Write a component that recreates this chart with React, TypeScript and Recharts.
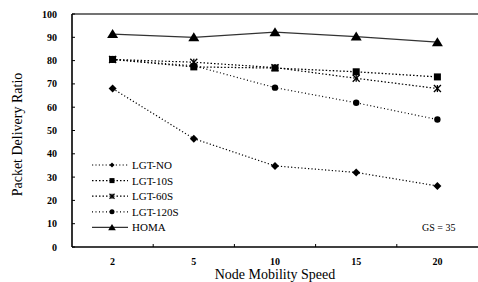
import React from 'react';
import { LineChart, Line, XAxis, YAxis, ReferenceLine } from 'recharts';

const categories = ['2', '5', '10', '15', '20'];
const lgtNo = [68, 46.5, 34.8, 32, 26.2];
const lgt10s = [80.5, 77.3, 76.8, 75.2, 73];
const lgt60s = [80.5, 79.3, 77, 72.4, 68];
const lgt120s = [80.5, 77.8, 68.4, 61.9, 54.7];
const homa = [91.4, 90, 92.2, 90.3, 87.9];
const yTicks = [0, 10, 20, 30, 40, 50, 60, 70, 80, 90, 100];

const W = 478;
const H = 282;
const PLOT_LEFT = 72;
const PLOT_TOP = 14;
const X_AXIS_H = 35;
const PLOT_BOTTOM = H - X_AXIS_H;
const BAND = (W - PLOT_LEFT) / categories.length;
const FONT = 'Liberation Serif, Times New Roman, DejaVu Serif, serif';

const data = categories.map((c, i) => ({
  cat: c,
  lgtNo: lgtNo[i],
  lgt10s: lgt10s[i],
  lgt60s: lgt60s[i],
  lgt120s: lgt120s[i],
  homa: homa[i],
}));

type Shape = 'diamond' | 'square' | 'star' | 'circle' | 'triangle';

function Marker({ cx, cy, shape, s }: { cx: number; cy: number; shape: Shape; s: number }) {
  if (cx == null || cy == null) return null;
  if (shape === 'diamond') {
    return <polygon points={`${cx},${cy - s} ${cx + s},${cy} ${cx},${cy + s} ${cx - s},${cy}`} fill="#000" />;
  }
  if (shape === 'square') {
    return <rect x={cx - s} y={cy - s} width={2 * s} height={2 * s} fill="#000" />;
  }
  if (shape === 'circle') {
    return <circle cx={cx} cy={cy} r={s} fill="#000" />;
  }
  if (shape === 'triangle') {
    return <polygon points={`${cx},${cy - s} ${cx + s * 1.1},${cy + s * 0.8} ${cx - s * 1.1},${cy + s * 0.8}`} fill="#000" />;
  }
  return (
    <g stroke="#000" strokeWidth={1.3}>
      <line x1={cx - s} y1={cy - s} x2={cx + s} y2={cy + s} />
      <line x1={cx - s} y1={cy + s} x2={cx + s} y2={cy - s} />
      <line x1={cx} y1={cy - s} x2={cx} y2={cy + s} />
    </g>
  );
}

const series: { key: string; name: string; shape: Shape; size: number; dash?: string; color: string; width: number }[] = [
  { key: 'lgtNo', name: 'LGT-NO', shape: 'diamond', size: 4, dash: '1.2 2.2', color: '#000', width: 1.2 },
  { key: 'lgt10s', name: 'LGT-10S', shape: 'square', size: 3.5, dash: '1.5 2', color: '#000', width: 1.3 },
  { key: 'lgt60s', name: 'LGT-60S', shape: 'star', size: 3.5, dash: '1.5 2', color: '#000', width: 1.2 },
  { key: 'lgt120s', name: 'LGT-120S', shape: 'circle', size: 3.2, dash: '1 2.5', color: '#000', width: 1.2 },
  { key: 'homa', name: 'HOMA', shape: 'triangle', size: 5, color: '#333', width: 1.2 },
];

const textStyle = { fontFamily: FONT };

const YTick = (props: any) => {
  const { y, payload } = props;
  return (
    <g>
      <line x1={PLOT_LEFT} x2={PLOT_LEFT + 3} y1={y} y2={y} stroke="#000" strokeWidth={1} />
      <text x={PLOT_LEFT - 15} y={y} textAnchor="end" dominantBaseline="central" style={textStyle} fontSize={10} fontWeight="bold" fill="#000">
        {payload.value}
      </text>
    </g>
  );
};

const XTick = (props: any) => {
  const { x, payload, index } = props;
  return (
    <g>
      {index < categories.length - 1 && (
        <line x1={x + BAND / 2} x2={x + BAND / 2} y1={PLOT_BOTTOM} y2={PLOT_BOTTOM - 3} stroke="#000" strokeWidth={1} />
      )}
      <text x={x} y={PLOT_BOTTOM + 14} textAnchor="middle" dominantBaseline="central" style={textStyle} fontSize={10} fontWeight="bold" fill="#000">
        {payload.value}
      </text>
    </g>
  );
};

export default function App() {
  return (
    <div style={{ position: 'absolute', left: 0, top: 0, width: W, height: H, background: '#fff' }}>
      <LineChart width={W} height={H} data={data} margin={{ top: PLOT_TOP, right: 0, left: 0, bottom: 0 }}>
        <XAxis
          dataKey="cat"
          height={X_AXIS_H}
          padding={{ left: BAND / 2, right: BAND / 2 }}
          tick={<XTick />}
          tickLine={false}
          tickSize={0}
          axisLine={{ stroke: '#000', strokeWidth: 1.6 }}
          interval={0}
        />
        <YAxis
          width={PLOT_LEFT}
          domain={[0, 100]}
          ticks={yTicks}
          tick={<YTick />}
          tickLine={false}
          tickSize={0}
          axisLine={{ stroke: '#000', strokeWidth: 1.6 }}
          interval={0}
        />
        <ReferenceLine y={100} stroke="#444" strokeWidth={1.4} />
        {series.map((s) => (
          <Line
            key={s.key}
            dataKey={s.key}
            name={s.name}
            stroke={s.color}
            strokeWidth={s.width}
            strokeDasharray={s.dash}
            isAnimationActive={false}
            dot={(p: any) => <Marker key={`${s.key}-${p.index}`} cx={p.cx} cy={p.cy} shape={s.shape} s={s.size} />}
            activeDot={false}
          />
        ))}
      </LineChart>
      <svg width={W} height={H} style={{ position: 'absolute', left: 0, top: 0, pointerEvents: 'none' }}>
        <text x={0} y={0} transform={`translate(17, ${(PLOT_TOP + PLOT_BOTTOM) / 2 + 4}) rotate(-90)`} textAnchor="middle" dominantBaseline="central" style={textStyle} fontSize={14} fill="#000">
          Packet Delivery Ratio
        </text>
        <text x={275} y={274.5} textAnchor="middle" dominantBaseline="central" style={textStyle} fontSize={14} fill="#000">
          Node Mobility Speed
        </text>
        <text x={422} y={227} dominantBaseline="central" style={textStyle} fontSize={10} fill="#000">
          GS = 35
        </text>
        {series.map((s, i) => {
          const yy = 165 + i * 15.6;
          return (
            <g key={s.key}>
              <line x1={92} x2={128} y1={yy} y2={yy} stroke={s.color} strokeWidth={s.width} strokeDasharray={s.dash} />
              <Marker cx={112} cy={yy} shape={s.shape} s={s.shape === 'triangle' ? 3.5 : 2.5} />
              <text x={132} y={yy} dominantBaseline="central" style={textStyle} fontSize={11} fill="#000">
                {s.name}
              </text>
            </g>
          );
        })}
      </svg>
    </div>
  );
}
